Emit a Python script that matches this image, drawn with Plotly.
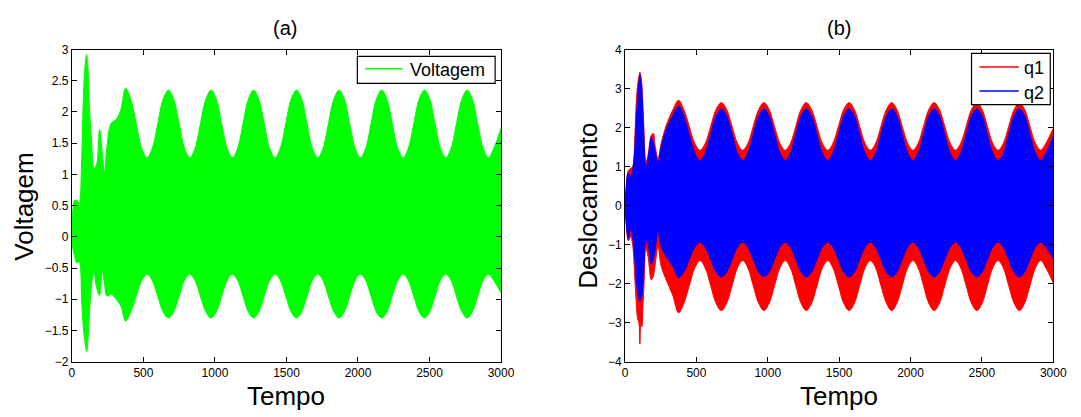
import plotly.graph_objects as go

# ---------------- (a) Voltagem : envelope of the fast oscillation ----------------
tempo_a = [0, 8, 18, 34, 50, 69, 80, 92, 103, 112, 122, 138, 154, 172, 193, 212, 228, 245, 275, 310, 344, 375,
           412, 450, 488, 525, 562, 600, 637, 675,
           712, 750, 787, 824, 861, 898, 936, 973,
           1010, 1047, 1085, 1122, 1159, 1196, 1233, 1270,
           1307, 1345, 1382, 1420, 1457, 1495, 1532, 1570,
           1607, 1644, 1681, 1719, 1756, 1793, 1831, 1868,
           1905, 1942, 1980, 2017, 2054, 2091, 2128, 2166,
           2203, 2240, 2278, 2315, 2352, 2390, 2427, 2465,
           2502, 2539, 2576, 2614, 2651, 2688, 2726, 2763,
           2800, 2837, 2875, 2912, 2949, 3000]
volt_max = [0.25, 0.45, 0.58, 0.59, 0.53, 1.30, 2.20, 2.75, 2.92, 2.70, 2.10, 1.51, 1.10, 1.15, 1.72, 1.35, 1.02, 1.45, 1.82, 1.88, 2.05, 2.38,
            2.20, 1.81, 1.42, 1.27, 1.42, 1.81, 2.20, 2.35,
            2.20, 1.81, 1.42, 1.27, 1.42, 1.81, 2.20, 2.35,
            2.20, 1.81, 1.42, 1.27, 1.42, 1.81, 2.20, 2.35,
            2.20, 1.81, 1.42, 1.27, 1.42, 1.81, 2.20, 2.35,
            2.20, 1.81, 1.42, 1.27, 1.42, 1.81, 2.20, 2.35,
            2.20, 1.81, 1.42, 1.27, 1.42, 1.81, 2.20, 2.35,
            2.20, 1.81, 1.42, 1.27, 1.42, 1.81, 2.20, 2.35,
            2.20, 1.81, 1.42, 1.27, 1.42, 1.81, 2.20, 2.35,
            2.20, 1.81, 1.42, 1.27, 1.42, 1.74]
volt_min = [-0.05, -0.20, -0.30, -0.42, -0.40, -1.05, -1.45, -1.70, -1.84, -1.65, -1.25, -0.76, -0.55, -0.81, -0.94, -0.55, -0.75, -0.95, -0.92, -1.00, -1.12, -1.35,
            -1.20, -0.95, -0.70, -0.60, -0.70, -0.95, -1.20, -1.30,
            -1.20, -0.95, -0.70, -0.60, -0.70, -0.95, -1.20, -1.30,
            -1.20, -0.95, -0.70, -0.60, -0.70, -0.95, -1.20, -1.30,
            -1.20, -0.95, -0.70, -0.60, -0.70, -0.95, -1.20, -1.30,
            -1.20, -0.95, -0.70, -0.60, -0.70, -0.95, -1.20, -1.30,
            -1.20, -0.95, -0.70, -0.60, -0.70, -0.95, -1.20, -1.30,
            -1.20, -0.95, -0.70, -0.60, -0.70, -0.95, -1.20, -1.30,
            -1.20, -0.95, -0.70, -0.60, -0.70, -0.95, -1.20, -1.30,
            -1.20, -0.95, -0.70, -0.60, -0.70, -0.90]

# ---------------- (b) Deslocamento q1 / q2 : envelopes ----------------
tempo_b = [0, 5, 23, 39, 53, 69, 78, 88, 97, 104, 111, 118, 125, 133, 146, 161, 184, 199, 208, 231, 253, 288, 334, 375,
           412, 450, 488, 525, 562, 600, 637, 675,
           712, 750, 787, 824, 861, 898, 936, 973,
           1010, 1047, 1085, 1122, 1159, 1196, 1233, 1270,
           1307, 1345, 1382, 1420, 1457, 1495, 1532, 1570,
           1607, 1644, 1681, 1719, 1756, 1793, 1831, 1868,
           1905, 1942, 1980, 2017, 2054, 2091, 2128, 2166,
           2203, 2240, 2278, 2315, 2352, 2390, 2427, 2465,
           2502, 2539, 2576, 2614, 2651, 2688, 2726, 2763,
           2800, 2837, 2875, 2912, 2949, 3000]
q1_max = [0.10, 0.35, 0.90, 0.95, 1.00, 1.80, 2.60, 3.10, 3.30, 3.42, 3.30, 3.10, 2.60, 1.90, 1.10, 1.30, 1.80, 1.85, 1.60, 1.20, 1.60, 2.05, 2.45, 2.70,
          2.46, 2.03, 1.60, 1.42, 1.60, 2.03, 2.46, 2.64,
          2.46, 2.03, 1.60, 1.42, 1.60, 2.03, 2.46, 2.64,
          2.46, 2.03, 1.60, 1.42, 1.60, 2.03, 2.46, 2.64,
          2.46, 2.03, 1.60, 1.42, 1.60, 2.03, 2.46, 2.64,
          2.46, 2.03, 1.60, 1.42, 1.60, 2.03, 2.46, 2.64,
          2.46, 2.03, 1.60, 1.42, 1.60, 2.03, 2.46, 2.64,
          2.46, 2.03, 1.60, 1.42, 1.60, 2.03, 2.46, 2.64,
          2.46, 2.03, 1.60, 1.42, 1.60, 2.03, 2.46, 2.64,
          2.46, 2.03, 1.60, 1.42, 1.60, 1.98]
q1_min = [-0.10, -0.35, -0.90, -0.80, -1.00, -1.90, -2.45, -2.90, -3.00, -3.55, -3.05, -3.10, -2.60, -2.00, -1.10, -1.30, -1.90, -1.80, -1.60, -1.05, -1.55, -1.90, -2.30, -2.75,
          -2.50, -2.05, -1.60, -1.41, -1.60, -2.05, -2.50, -2.69,
          -2.50, -2.05, -1.60, -1.41, -1.60, -2.05, -2.50, -2.69,
          -2.50, -2.05, -1.60, -1.41, -1.60, -2.05, -2.50, -2.69,
          -2.50, -2.05, -1.60, -1.41, -1.60, -2.05, -2.50, -2.69,
          -2.50, -2.05, -1.60, -1.41, -1.60, -2.05, -2.50, -2.69,
          -2.50, -2.05, -1.60, -1.41, -1.60, -2.05, -2.50, -2.69,
          -2.50, -2.05, -1.60, -1.41, -1.60, -2.05, -2.50, -2.69,
          -2.50, -2.05, -1.60, -1.41, -1.60, -2.05, -2.50, -2.69,
          -2.50, -2.05, -1.60, -1.41, -1.60, -1.98]
q2_max = [0.10, 0.30, 0.84, 0.75, 0.90, 1.50, 2.20, 2.75, 3.15, 3.35, 3.20, 2.90, 2.30, 1.60, 1.00, 1.20, 1.75, 1.60, 1.45, 1.10, 1.50, 1.95, 2.30, 2.55,
          2.29, 1.82, 1.35, 1.16, 1.35, 1.82, 2.29, 2.48,
          2.29, 1.82, 1.35, 1.16, 1.35, 1.82, 2.29, 2.48,
          2.29, 1.82, 1.35, 1.16, 1.35, 1.82, 2.29, 2.48,
          2.29, 1.82, 1.35, 1.16, 1.35, 1.82, 2.29, 2.48,
          2.29, 1.82, 1.35, 1.16, 1.35, 1.82, 2.29, 2.48,
          2.29, 1.82, 1.35, 1.16, 1.35, 1.82, 2.29, 2.48,
          2.29, 1.82, 1.35, 1.16, 1.35, 1.82, 2.29, 2.48,
          2.29, 1.82, 1.35, 1.16, 1.35, 1.82, 2.29, 2.48,
          2.29, 1.82, 1.35, 1.16, 1.35, 1.78]
q2_min = [-0.10, -0.30, -0.85, -0.60, -0.80, -1.40, -1.90, -2.20, -2.40, -2.45, -2.35, -2.30, -2.00, -1.50, -0.90, -1.00, -1.50, -1.35, -1.20, -0.65, -1.05, -1.30, -1.55, -1.85,
          -1.70, -1.38, -1.07, -0.94, -1.07, -1.38, -1.70, -1.83,
          -1.70, -1.38, -1.07, -0.94, -1.07, -1.38, -1.70, -1.83,
          -1.70, -1.38, -1.07, -0.94, -1.07, -1.38, -1.70, -1.83,
          -1.70, -1.38, -1.07, -0.94, -1.07, -1.38, -1.70, -1.83,
          -1.70, -1.38, -1.07, -0.94, -1.07, -1.38, -1.70, -1.83,
          -1.70, -1.38, -1.07, -0.94, -1.07, -1.38, -1.70, -1.83,
          -1.70, -1.38, -1.07, -0.94, -1.07, -1.38, -1.70, -1.83,
          -1.70, -1.38, -1.07, -0.94, -1.07, -1.38, -1.70, -1.83,
          -1.70, -1.38, -1.07, -0.94, -1.07, -1.35]

x_ticks = [0, 500, 1000, 1500, 2000, 2500, 3000]
ya_ticks = [-2, -1.5, -1, -0.5, 0, 0.5, 1, 1.5, 2, 2.5, 3]
yb_ticks = [-4, -3, -2, -1, 0, 1, 2, 3, 4]

GREEN = "#00FF00"
RED = "#FF0000"
BLUE = "#0000FF"
FONT = "Arial, 'Liberation Sans', sans-serif"
W, H = 1081.0, 417.0


def px(x):
    return x / W


def py(y):
    return 1 - y / H


fig = go.Figure()


def band(t, lo, hi, color, name, xa, ya):
    """Filled band between the lower and upper envelope of an oscillating signal."""
    fig.add_trace(go.Scatter(x=t, y=lo, mode="lines", line=dict(color=color, width=1, shape="spline", smoothing=1.0),
                             xaxis=xa, yaxis=ya, showlegend=False, hoverinfo="skip", name=name))
    fig.add_trace(go.Scatter(x=t, y=hi, mode="lines", fill="tonexty", fillcolor=color,
                             line=dict(color=color, width=1, shape="spline", smoothing=1.0),
                             xaxis=xa, yaxis=ya, showlegend=False, hoverinfo="skip", name=name))


band(tempo_a, volt_min, volt_max, GREEN, "Voltagem", "x", "y")
band(tempo_b, q1_min, q1_max, RED, "q1", "x2", "y2")
band(tempo_b, q2_min, q2_max, BLUE, "q2", "x2", "y2")

axis_common = dict(showline=True, linecolor="black", linewidth=1, mirror="ticks", ticks="inside",
                   ticklen=5, tickcolor="black", showgrid=False, zeroline=False,
                   tickfont=dict(family=FONT, size=12, color="black"))

top, bottom = 44, 367
fig.update_layout(
    width=1081, height=417,
    margin=dict(l=0, r=0, t=0, b=0),
    paper_bgcolor="white", plot_bgcolor="white",
    font=dict(family=FONT, color="black"),
    showlegend=False,
    xaxis=dict(domain=[px(70), px(506)], range=[0, 3000], tickvals=x_ticks, anchor="y", **axis_common),
    yaxis=dict(domain=[py(bottom), py(top)], range=[-2, 3], tickvals=ya_ticks, anchor="x", **axis_common),
    xaxis2=dict(domain=[px(632), px(1067)], range=[0, 3000], tickvals=x_ticks, anchor="y2", **axis_common),
    yaxis2=dict(domain=[py(bottom), py(top)], range=[-4, 4], tickvals=yb_ticks, anchor="x2", **axis_common),
)

# boxed legends in the upper-right corner of each panel
shapes = []
annotations = []


def legend_box(x0, x1, y0, y1, entries):
    shapes.append(dict(type="rect", xref="paper", yref="paper", x0=px(x0), x1=px(x1), y0=py(y1), y1=py(y0),
                       line=dict(color="black", width=1.2), fillcolor="white", layer="above"))
    for (lx0, lx1, ly, tx, name, color) in entries:
        shapes.append(dict(type="line", xref="paper", yref="paper", x0=px(lx0), x1=px(lx1), y0=py(ly), y1=py(ly),
                           line=dict(color=color, width=1.5), layer="above"))
        annotations.append(dict(text=name, x=px(tx), y=py(ly + 1.5), xanchor="left", yanchor="middle",
                                font=dict(size=18)))


legend_box(360, 500, 51, 79, [(368, 406, 64, 411, "Voltagem", GREEN)])
legend_box(984, 1064, 48, 101, [(992, 1032, 62, 1035, "q1", RED),
                                 (992, 1032, 87, 1035, "q2", BLUE)])

annotations += [
    dict(text="(a)", x=px(287), y=py(22), font=dict(size=20)),
    dict(text="(b)", x=px(849), y=py(22), font=dict(size=20)),
    dict(text="Tempo", x=px(288), y=py(403), font=dict(size=26)),
    dict(text="Tempo", x=px(849), y=py(403), font=dict(size=26)),
    dict(text="Voltagem", x=px(21), y=py(207), font=dict(size=26), textangle=-90),
    dict(text="Deslocamento", x=px(594), y=py(206), font=dict(size=26), textangle=-90),
]
for a in annotations:
    a.setdefault("xanchor", "center")
    a.setdefault("yanchor", "middle")
    a.update(xref="paper", yref="paper", showarrow=False)
    a["font"].update(family=FONT, color="black")

fig.update_layout(shapes=shapes, annotations=annotations)

# page without the default body margin so the figure sits at the window origin
fig.write_html("out.html", post_script="document.body.style.margin='0px';document.body.style.overflow='hidden';")
